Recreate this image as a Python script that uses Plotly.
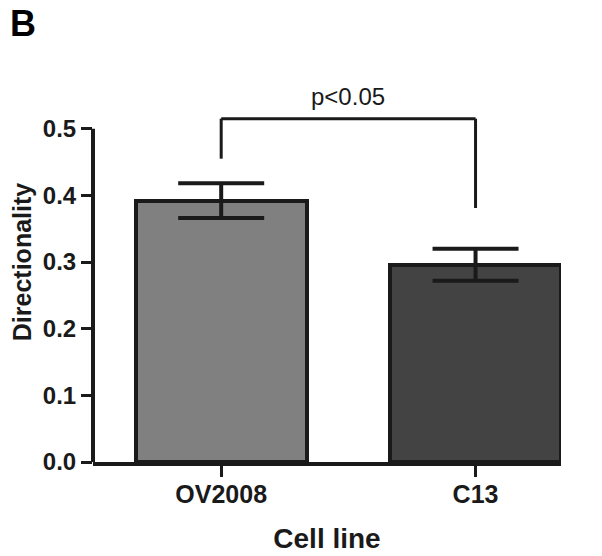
import plotly.graph_objects as go

categories = ["OV2008", "C13"]
means = [0.392, 0.296]
errors = [0.026, 0.024]
bar_colors = ["#808080", "#434343"]
y_ticks = [0.0, 0.1, 0.2, 0.3, 0.4, 0.5]
y_tick_text = ["0.0", "0.1", "0.2", "0.3", "0.4", "0.5"]
bracket_top = 0.515
bracket_left_bottom = 0.455
bracket_right_bottom = 0.381
p_label = "p<0.05"
p_label_y = 0.548

ink = "#1a1a1a"
font_family = "Liberation Sans, Arial, sans-serif"

# page body has an 8px default margin, so margins are adjusted accordingly
ML, MR, MT, MB = 85, 49, 54, 102
W, H = 602, 556
plot_w = W - ML - MR
plot_h = H - MT - MB

fig = go.Figure()
fig.add_trace(go.Bar(
    x=[0, 1], y=means,
    width=0.672,
    marker=dict(color=bar_colors, line=dict(color=ink, width=4)),
    error_y=dict(type="data", array=errors, visible=True,
                 color=ink, thickness=4, width=43),
    showlegend=False,
))

# y axis line (0 to 0.5 only)
fig.add_shape(type="line", xref="paper", yref="y", x0=0, x1=0,
              y0=0, y1=y_ticks[-1], line=dict(color=ink, width=4))
# significance bracket
fig.add_shape(type="line", xref="x", yref="y", x0=0, x1=1,
              y0=bracket_top, y1=bracket_top, line=dict(color=ink, width=3))
fig.add_shape(type="line", xref="x", yref="y", x0=0, x1=0,
              y0=bracket_left_bottom, y1=bracket_top, line=dict(color=ink, width=3))
fig.add_shape(type="line", xref="x", yref="y", x0=1, x1=1,
              y0=bracket_right_bottom, y1=bracket_top, line=dict(color=ink, width=3))
fig.add_annotation(x=0.5, y=p_label_y, xref="x", yref="y", text=p_label,
                   showarrow=False, font=dict(family=font_family, size=24, color=ink))
fig.add_annotation(x=-ML / plot_w, y=1 + (MT - 15) / plot_h, xref="paper", yref="paper",
                   text="<b>B</b>", xanchor="left", yanchor="middle", showarrow=False,
                   font=dict(family=font_family, size=36, color="#000000"))

fig.update_layout(
    width=W, height=H,
    margin=dict(l=ML, r=MR, t=MT, b=MB, autoexpand=False),
    plot_bgcolor="white", paper_bgcolor="white",
    font=dict(family=font_family, color=ink),
    bargap=0,
)
fig.update_xaxes(
    range=[-0.504, 1.336],
    tickvals=[0, 1], ticktext=["<b>%s</b>" % c for c in categories],
    tickfont=dict(size=25, family=font_family, color=ink),
    ticks="outside", ticklen=11, tickwidth=3, tickcolor=ink,
    ticklabelstandoff=-4,
    showline=True, linecolor=ink, linewidth=4,
    showgrid=False, zeroline=False,
    title=dict(text="<b>Cell line</b>", font=dict(size=28, family=font_family, color=ink),
               standoff=22),
)
fig.update_yaxes(
    range=[0, 0.6],
    tickvals=y_ticks, ticktext=["<b>%s</b>" % t for t in y_tick_text],
    tickfont=dict(size=24, family=font_family, color=ink),
    ticks="outside", ticklen=11, tickwidth=3, tickcolor=ink,
    showline=False, showgrid=False, zeroline=False,
    title=dict(text="<b>Directionality</b>", font=dict(size=25, family=font_family, color=ink),
               standoff=4),
)

fig.write_html("out.html")
